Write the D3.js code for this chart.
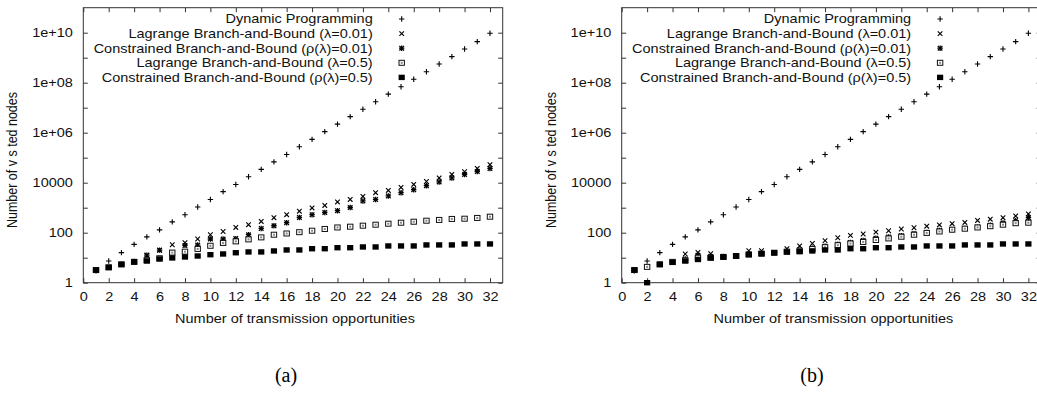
<!DOCTYPE html>
<html><head><meta charset="utf-8">
<script src="https://cdn.jsdelivr.net/npm/d3@7"></script>
<style>
html,body{margin:0;padding:0;background:#fff;}
svg{display:block;}
text{font-family:"Liberation Sans",Arial,Helvetica,sans-serif;fill:#111;}
text.plabel{font-family:"Liberation Serif","DejaVu Serif","Times New Roman",serif;fill:#000;}
</style></head>
<body>
<svg id="chart" width="1037" height="396"></svg>
<script>
// ---------- data ----------
const xValues = d3.range(1, 33);
const seriesNames = [
  "Dynamic Programming",
  "Lagrange Branch-and-Bound (\u03bb=0.01)",
  "Constrained Branch-and-Bound (\u03c1(\u03bb)=0.01)",
  "Lagrange Branch-and-Bound (\u03bb=0.5)",
  "Constrained Branch-and-Bound (\u03c1(\u03bb)=0.5)"
];
const xTickLabels = d3.range(0, 33, 2);
const yTickValues = [1,10,100,1e3,1e4,1e5,1e6,1e7,1e8,1e9,1e10];
const yTickLabels = {1:"1",100:"100",10000:"10000",1e6:"1e+06",1e8:"1e+08",1e10:"1e+10"};
const xTitle = "Number of transmission opportunities";
const yTitle = "Number of v s ted nodes";

// panel (a)
const dpA = [3,7.4,16,34,68,130,270,520,1070,2140,4400,8500,17400,34000,68000,135000,275000,540000,1100000,2200000,4400000,8700000,17400000,35000000,69000000,138000000,275000000,560000000,1100000000,2240000000,4400000000,9500000000];
const lagA001 = [3.2,4.1,5.4,7.1,12.6,20,33,40,56,83,112,162,209,282,398,525,724,977,1230,1700,2140,2820,3980,4900,6460,8510,11200,15500,21400,27500,37200,52500];
const conA001 = [3.2,4.1,5.4,7.1,12.6,20,16,31,32,56,56,58,83,148,190,251,407,525,646,759,1020,1860,2140,2950,3980,5250,7590,10700,15500,21400,28200,37200];
const lagA05 = [3.2,4.1,5.4,6.8,7.9,9.5,16,17.4,22.4,30,39,45,54,65,83,93,105,120,141,162,174,191,209,229,251,275,302,324,355,363,389,437];
const conA05 = [3.2,4.1,5.4,6.8,7.4,8.9,9.8,10.7,11.7,13.2,14.1,15.8,17,17,18.6,20.4,20.4,22.9,22.9,25.1,25.1,26.9,26.9,29.5,29.5,29.5,32.4,32.4,32.4,35.5,35.5,35.5];

// panel (b)
const dpB = [3,7.4,16,34,68,130,270,520,1070,2140,4400,8500,17400,34000,68000,135000,275000,540000,1100000,2200000,4400000,8700000,17400000,35000000,69000000,138000000,275000000,560000000,1100000000,2240000000,4400000000,9500000000];
const lagB001 = [3.2,4.3,5.4,6.8,14.1,16.2,14.5,11.2,12,19,19,15.8,22.9,29.5,37,48,63,78,89,105,120,141,158,182,204,229,257,309,347,398,468,562];
const conB001 = [3.2,4.3,5.4,6.8,8.9,12.6,11.2,11.2,12,14.1,14.8,15.8,17.8,20,24,28.8,34.7,40.7,49,60,68,76,91,102,123,132,148,170,200,245,302,398];
const lagB05 = [3.2,4.3,5.4,6.8,7.9,10,10,10.7,11.7,13.5,14.5,15.8,17.4,19,22.4,26.3,31.6,37,42.7,51,59,69,83,98,112,132,145,162,182,209,240,251];
const conB05 = [3.2,1,5.4,6.5,7.4,8.5,9.8,10.7,11.7,13.2,14.5,15.8,17,17.4,18.6,20.4,20.4,22.9,22.9,25.1,25.1,26.9,26.9,29.5,29.5,29.5,32.4,32.4,32.4,35.5,35.5,35.5];

// ---------- drawing ----------
const svg = d3.select("#chart");
const SX = 1.16; // horizontal text stretch of the original figure
const FS = 12.5;

function marker(g, type, cx, cy) {
  const s = 2.7;
  if (type === 0 || type === 2) {
    g.append("path").attr("d", `M${cx-s},${cy}H${cx+s}M${cx},${cy-s}V${cy+s}`)
      .attr("stroke", "#000").attr("stroke-width", type === 2 ? 1.3 : 1.1).attr("fill", "none");
  }
  if (type === 1 || type === 2) {
    const t = 2.3;
    g.append("path").attr("d", `M${cx-t},${cy-t}L${cx+t},${cy+t}M${cx-t},${cy+t}L${cx+t},${cy-t}`)
      .attr("stroke", "#000").attr("stroke-width", type === 2 ? 1.3 : 1.1).attr("fill", "none");
  }
  if (type === 3) {
    g.append("rect").attr("x", cx-2.7).attr("y", cy-2.5).attr("width", 5.4).attr("height", 5)
      .attr("fill", "#fff").attr("stroke", "#111").attr("stroke-width", 1);
    g.append("rect").attr("x", cx-1).attr("y", cy-1).attr("width", 2).attr("height", 2).attr("fill", "#888");
  }
  if (type === 4) {
    g.append("rect").attr("x", cx-3.1).attr("y", cy-2.7).attr("width", 6.2).attr("height", 5.4).attr("fill", "#000");
  }
}

function drawPanel(left, series, label, labelX) {
  const plotL = left, plotR = left + 419.4, plotT = 7.7, plotB = 282.7;
  const x = d3.scaleLinear().domain([0, 33]).range([plotL, plotR]);
  const y = d3.scaleLog().domain([1, 1e11]).range([plotB, plotT]);
  const g = svg.append("g");

  // axes
  const ax = g.append("g").attr("class", "axes");
  ax.append("g").attr("transform", `translate(0,${plotB})`)
    .call(d3.axisBottom(x).tickValues(xTickLabels).tickSizeInner(-4.5).tickSizeOuter(0).tickPadding(9.5).tickFormat(d3.format("d")));
  ax.append("g").attr("transform", `translate(0,${plotT})`)
    .call(d3.axisTop(x).tickValues(xTickLabels).tickSizeInner(-4.5).tickSizeOuter(0).tickFormat(""));
  ax.append("g").attr("transform", `translate(${plotL},0)`)
    .call(d3.axisLeft(y).tickValues(yTickValues).tickSizeInner(-4.5).tickSizeOuter(0).tickPadding(9)
      .tickFormat(d => yTickLabels[d] || ""));
  ax.append("g").attr("transform", `translate(${plotR},0)`)
    .call(d3.axisRight(y).tickValues(yTickValues).tickSizeInner(-4.5).tickSizeOuter(0).tickFormat(""));
  ax.selectAll(".domain").remove();
  ax.selectAll(".tick line").attr("stroke", "#333").attr("stroke-width", 1);
  ax.selectAll(".tick text").attr("font-size", FS).attr("fill", "#111")
    .attr("transform", `scale(${SX},1)`);
  // frame
  g.append("rect").attr("x", plotL).attr("y", plotT).attr("width", plotR - plotL).attr("height", plotB - plotT)
    .attr("fill", "none").attr("stroke", "#333").attr("stroke-width", 1);

  // axis titles
  g.append("text").attr("transform", `translate(${(plotL + plotR) / 2 + 2},${plotB + 40.5}) scale(${SX},1)`)
    .attr("text-anchor", "middle").attr("font-size", FS).text(xTitle);
  g.append("text").attr("transform", `translate(${plotL - 66},${160}) rotate(-90) scale(1,${SX})`)
    .attr("text-anchor", "middle").attr("font-size", FS).text(yTitle);

  // points
  const pts = g.append("g");
  series.forEach((vals, si) => {
    vals.forEach((v, i) => marker(pts, si, x(xValues[i]), y(v)));
  });

  // legend
  const leg = g.append("g");
  seriesNames.forEach((name, i) => {
    const cy = 19 + i * 14.6;
    leg.append("text").attr("transform", `translate(${plotR - 130},${cy + 4.3}) scale(${SX},1)`)
      .attr("text-anchor", "end").attr("font-size", FS).text(name);
    marker(leg, i, plotR - 101, cy);
  });

  // panel label
  svg.append("text").attr("class", "plabel").attr("x", labelX).attr("y", 382).attr("text-anchor", "middle")
    .attr("font-size", 20).text(label);
}

drawPanel(83.3, [dpA, lagA001, conA001, lagA05, conA05], "(a)", 286);
drawPanel(621.7, [dpB, lagB001, conB001, lagB05, conB05], "(b)", 812);
</script>
</body></html>
